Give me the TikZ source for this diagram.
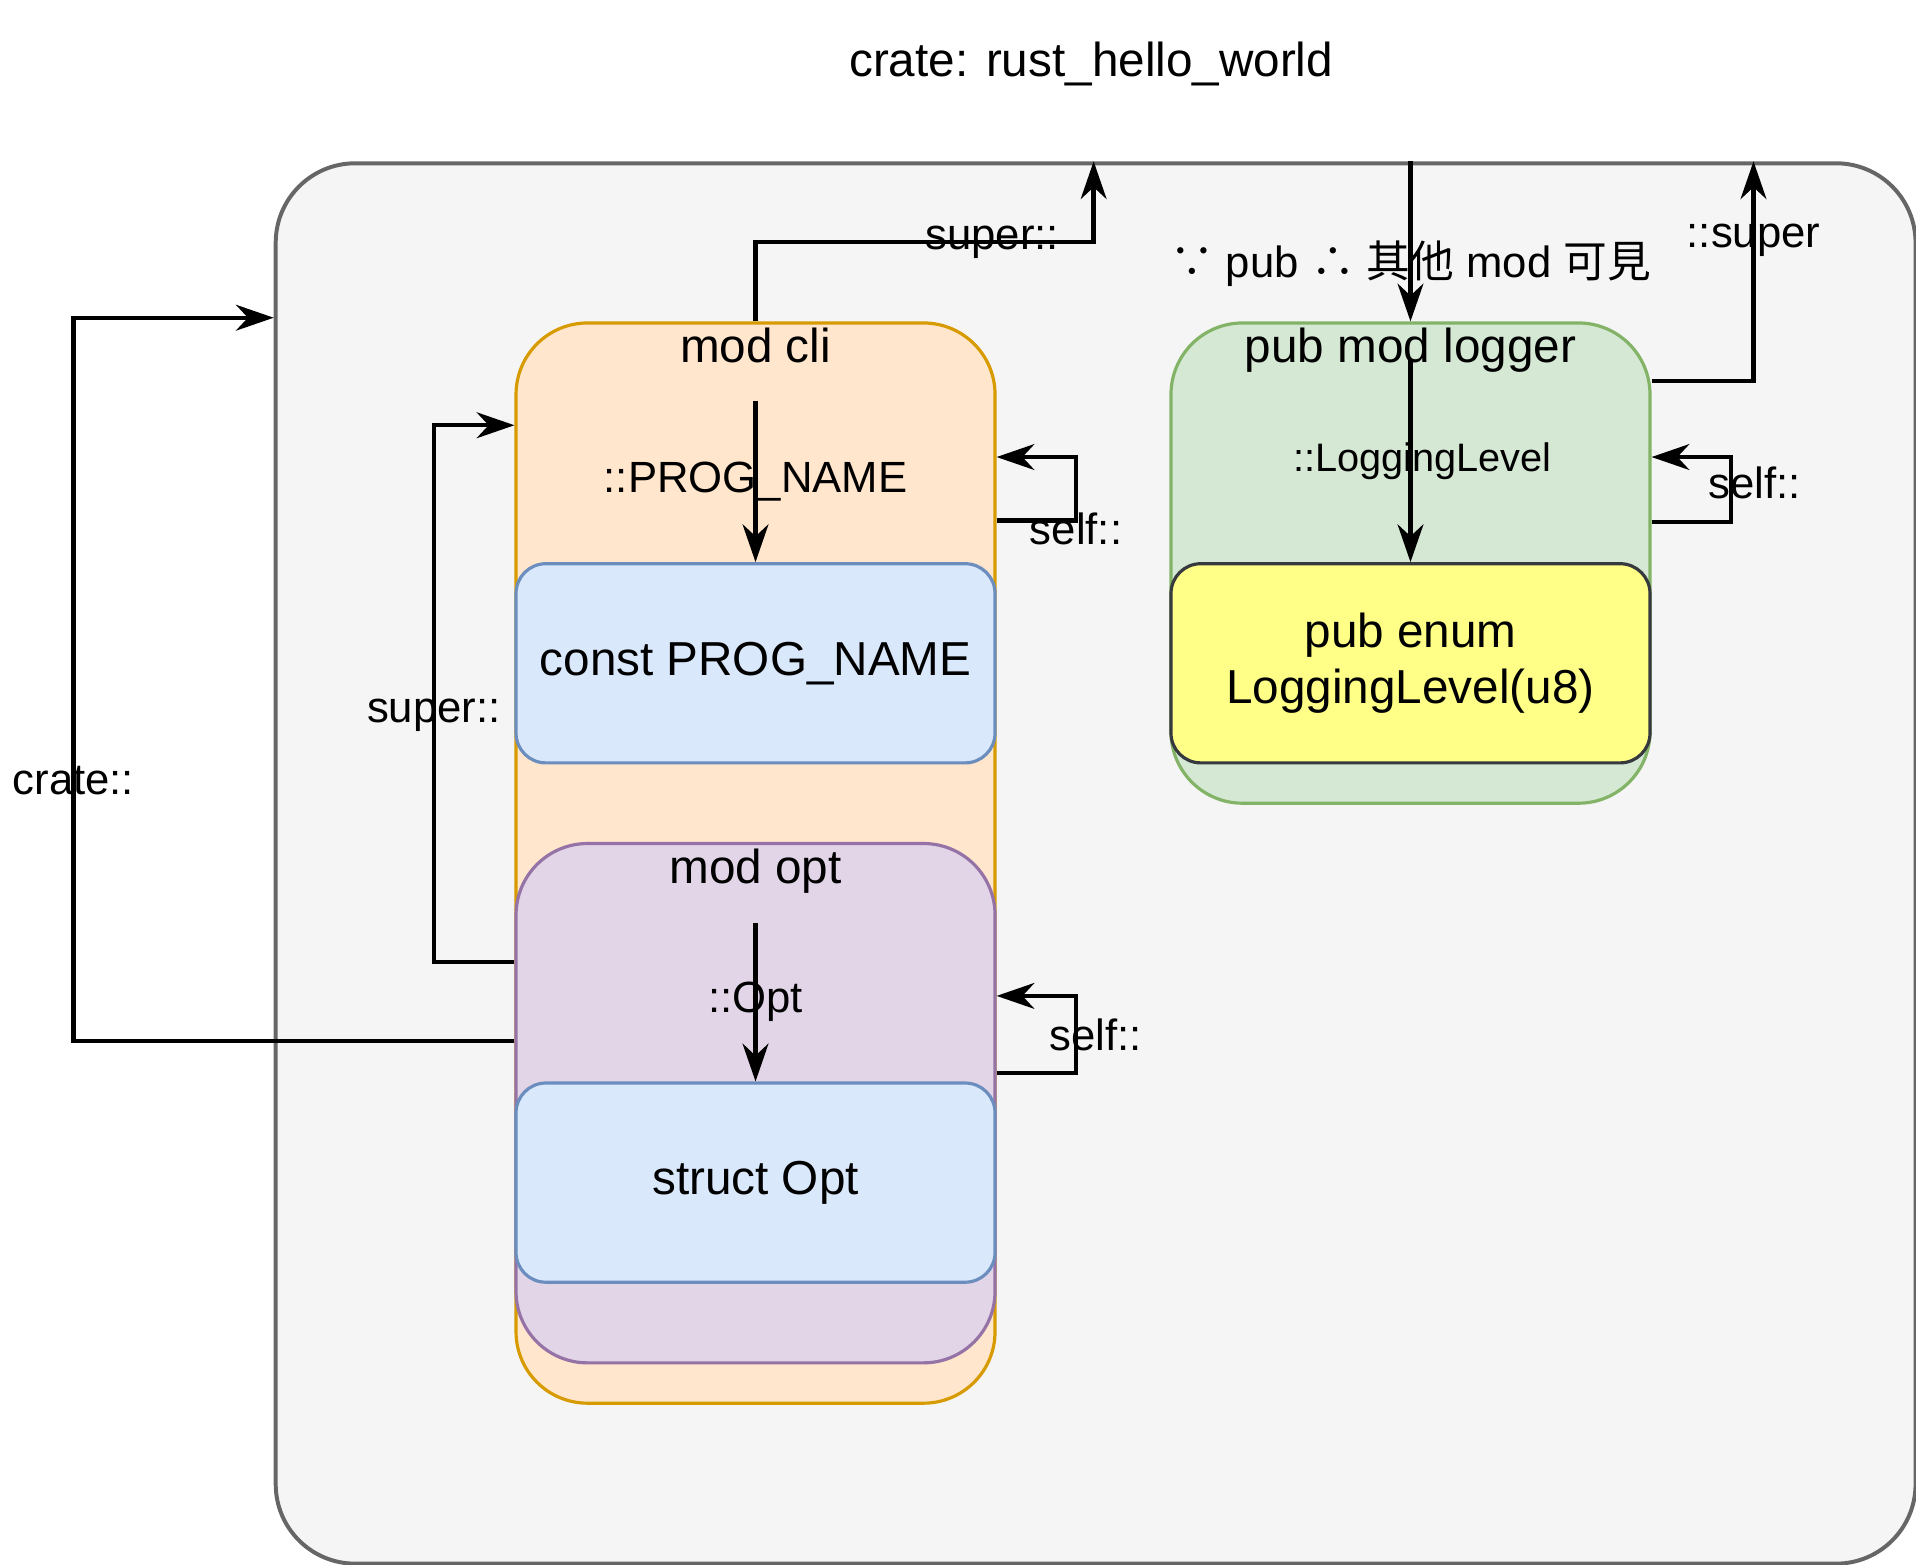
\documentclass[tikz,border=0pt]{standalone}
\usepackage{fontspec}
\setmainfont{Liberation Sans}
\newfontfamily\cjk{Noto Sans CJK TC}
\usetikzlibrary{arrows.meta,calc}
\def\px{0.3077pt}

\definecolor{crateFill}{HTML}{F5F5F5}
\definecolor{crateLine}{HTML}{666666}
\definecolor{cliFill}{HTML}{FFE6CC}
\definecolor{cliLine}{HTML}{D79B00}
\definecolor{itemFill}{HTML}{DAE8FC}
\definecolor{itemLine}{HTML}{6C8EBF}
\definecolor{optFill}{HTML}{E1D5E7}
\definecolor{optLine}{HTML}{9673A6}
\definecolor{logFill}{HTML}{D5E8D4}
\definecolor{logLine}{HTML}{82B366}
\definecolor{enumFill}{HTML}{FFFF88}
\definecolor{enumLine}{HTML}{36393D}

\begin{document}
\begin{tikzpicture}[x=\px,y=-\px,>={Stealth[length=9.5pt,width=6.5pt,inset=3pt]}]
    \tikzstyle{box}=[draw,line width=0.8pt,inner sep=0pt,anchor=north west,
        font=\fontsize{12}{14}\selectfont]
    \tikzstyle{module}=[box,rounded corners=18pt,minimum width=392*\px]
    \tikzstyle{item}=[box,rounded corners=7.5pt,minimum width=392*\px,
        minimum height=163*\px,align=center]
    \tikzstyle{title}=[anchor=north,inner sep=1.5pt,font=\fontsize{12}{14}\selectfont]
    \tikzstyle{link}=[->,line width=1.1pt]
    \tikzstyle{lbl}=[inner sep=0pt,font=\fontsize{11}{13}\selectfont]

    \useasboundingbox (0,0) rectangle (1568,1280);

    % Draw the crate
    \node[box,draw=crateLine,fill=crateFill,line width=1pt,rounded corners=20pt,
        minimum width=1342*\px,minimum height=1146*\px] (crate) at (224,132) {};
    \node[font=\fontsize{12}{14}\selectfont] (crate name) at (893,52) {crate: rust\_hello\_world};

    % Draw the modules and their items
    \node[module,draw=cliLine,fill=cliFill,minimum height=884*\px,
        label={[title]north:mod cli}] (cli) at (421,263) {};
    \node[item,draw=itemLine,fill=itemFill] (prog) at (421,460) {const PROG\_NAME};
    \node[module,draw=optLine,fill=optFill,minimum height=425*\px,
        label={[title]north:mod opt}] (opt) at (421,689) {};
    \node[item,draw=itemLine,fill=itemFill] (struct) at (421,885) {struct Opt};
    \node[module,draw=logLine,fill=logFill,minimum height=393*\px,
        label={[title]north:pub mod logger}] (logger) at (957,263) {};
    \node[item,draw=enumLine,fill=enumFill] (enum) at (957,460) {pub enum\\LoggingLevel(u8)};

    % Free ends on the crate border
    \coordinate (cli up) at (895,132);
    \coordinate (logger up) at (1435,132);
    \coordinate (pub top) at (logger.north |- crate.north);

    % Paths out of mod cli
    \draw[link] (cli.north) -- ++(0,-65) -| (cli up) node[lbl,pos=0.35] {super::};
    \draw[link] ($(cli.north)+(0,65)$) -- (prog.north) node[lbl,midway] {::PROG\_NAME};
    \draw[link] ($(cli.north east)+(0,163)$) -- ++(65,0) node[lbl,at end,yshift=-2pt] {self::}
        |- ($(cli.north east)+(0,111)$);

    % Paths out of mod opt
    \draw[link] ($(opt.north west)+(0,98)$) -- ++(-66,0) |- ($(cli.north west)+(0,85)$)
        node[lbl,pos=0.23] {super::};
    \draw[link] ($(opt.north west)+(0,163)$) -- ++(-361,0) |- ($(crate.north west)+(0,128)$)
        node[lbl,pos=0.18] {crate::};
    \draw[link] ($(opt.north)+(0,66)$) -- (struct.north) node[lbl,midway] {::Opt};
    \draw[link] ($(opt.north east)+(0,189)$) -- ++(65,0)
        |- ($(opt.north east)+(0,126)$) node[lbl,pos=0.25,xshift=5pt] {self::};

    % Paths of pub mod logger
    \draw[link] (pub top) -- (logger.north)
        node[lbl,pos=0.64] {{\cjk ∵} pub {\cjk ∴} {\cjk 其他} mod {\cjk 可見}};
    \draw[link] ($(logger.north)+(0,32)$) -- (enum.north)
        node[lbl,midway,xshift=3pt,font=\fontsize{10}{12}\selectfont] {::LoggingLevel};
    \draw[link] ($(logger.north east)+(0,164)$) -- ++(65,0)
        |- ($(logger.north east)+(0,111)$) node[lbl,pos=0.3,xshift=6pt] {self::};
    \draw[link] ($(logger.north east)+(0,49)$) -| (logger up) node[lbl,pos=0.82] {::super};
\end{tikzpicture}
\end{document}
